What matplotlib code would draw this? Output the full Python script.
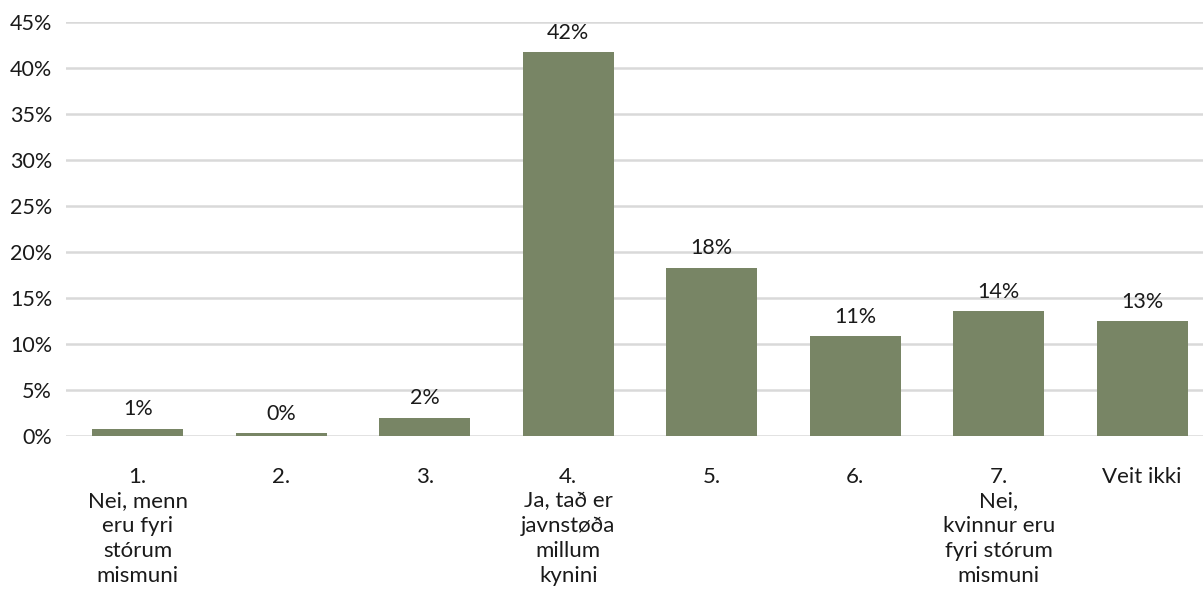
import matplotlib
matplotlib.use("Agg")
import matplotlib.pyplot as plt
from matplotlib.ticker import PercentFormatter, MultipleLocator

categories = ["1.\nNei, menn\neru fyri\nstórum\nmismuni", "2.", "3.",
              "4.\nJa, tað er\njavnstøða\nmillum\nkynini", "5.", "6.",
              "7.\nNei,\nkvinnur eru\nfyri stórum\nmismuni", "Veit ikki"]
values = [0.8, 0.35, 2.0, 41.7, 18.3, 10.9, 13.6, 12.5]
labels = ["1%", "0%", "2%", "42%", "18%", "11%", "14%", "13%"]

plt.rcParams['font.family'] = ['Lato', 'DejaVu Sans']
fig = plt.figure(figsize=(12.03, 6.0), dpi=100)
ax = fig.add_axes([66/1203, 1-436/600, (1214-66)/1203, (436-22)/600])

x = range(len(categories))
bars = ax.bar(x, values, width=0.634, color="#788565", zorder=3)
for b, lab in zip(bars, labels):
    ax.text(b.get_x() + b.get_width()/2, b.get_height() + 1.0, lab,
            ha="center", va="bottom", fontsize=15.5, color="#1a1a1a")

ax.set_ylim(0, 45)
ax.set_xlim(-0.5, len(categories) - 0.5)
ax.yaxis.set_major_locator(MultipleLocator(5))
ax.yaxis.set_major_formatter(PercentFormatter(decimals=0))
ax.grid(axis="y", color="#d9d9d9", linewidth=1.8, zorder=0)
ax.set_xticks(list(x))
ax.set_xticklabels(categories, fontsize=16, linespacing=1.3, va="top")
ax.tick_params(axis="y", length=0, labelsize=15.5, colors="#1a1a1a", pad=10)
ax.tick_params(axis="x", length=0, colors="#1a1a1a", pad=22)
for s in ax.spines.values():
    s.set_visible(False)

fig.savefig("out.png", dpi=100)
